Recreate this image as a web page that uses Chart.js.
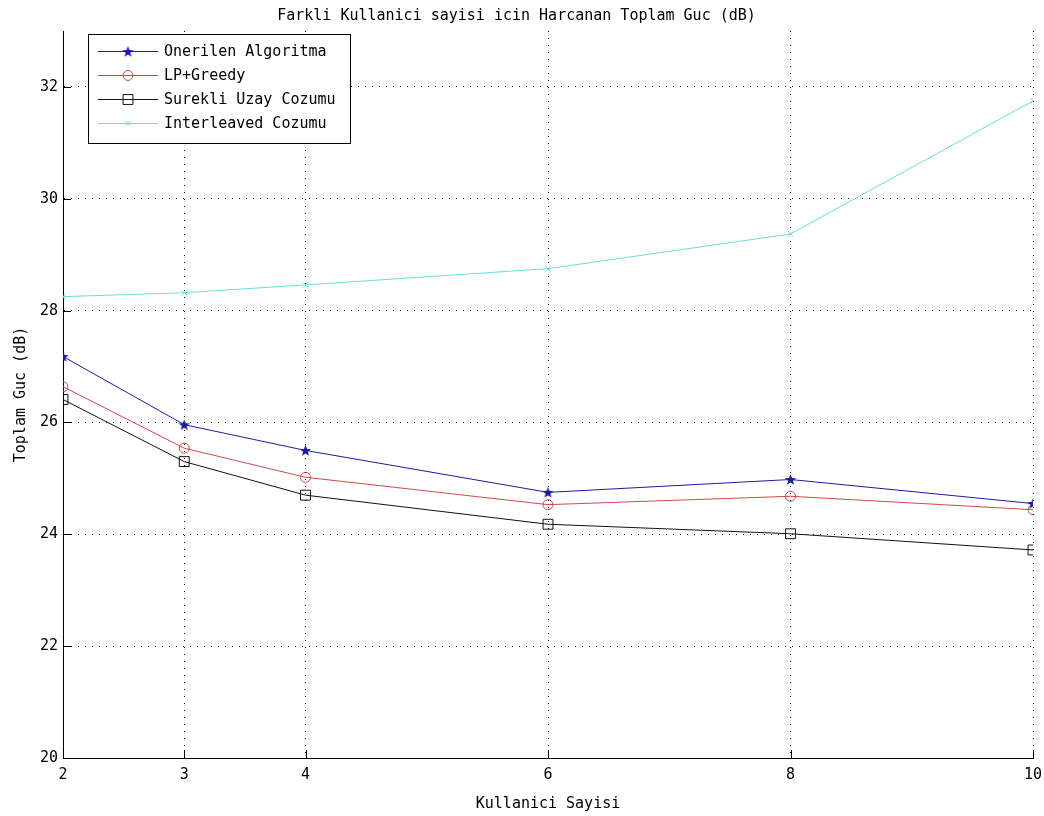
<!DOCTYPE html>
<html>
<head>
<meta charset="utf-8">
<script src="https://cdn.jsdelivr.net/npm/chart.js@4.4.1/dist/chart.umd.min.js"></script>
<style>
  html, body { margin: 0; padding: 0; background: #fff; }
</style>
</head>
<body>
<canvas id="powerChart" width="1044" height="816"></canvas>
<script>
// data
const users = [2, 3, 4, 6, 8, 10];
const onerilen = [27.18, 25.96, 25.50, 24.75, 24.98, 24.55];
const lpGreedy = [26.64, 25.54, 25.02, 24.53, 24.68, 24.44];
const surekli = [26.41, 25.30, 24.70, 24.18, 24.01, 23.72];
const interleaved = [28.25, 28.32, 28.46, 28.75, 29.37, 31.75];
const yTicks = [20, 22, 24, 26, 28, 30, 32];
const seriesNames = ['Onerilen Algoritma', 'LP+Greedy', 'Surekli Uzay Cozumu', 'Interleaved Cozumu'];

const FONT = '"DejaVu Sans Mono", monospace';

// filled pentagram marker, matlab style
function makeStar(color) {
    const c = document.createElement('canvas');
    c.width = 13; c.height = 13;
    const g = c.getContext('2d');
    g.fillStyle = color;
    g.beginPath();
    for (let i = 0; i < 10; i++) {
        const r = i % 2 === 0 ? 6 : 2.5;
        const a = -Math.PI / 2 + i * Math.PI / 5;
        const px = 6.5 + r * Math.cos(a), py = 7 + r * Math.sin(a);
        if (i === 0) g.moveTo(px, py); else g.lineTo(px, py);
    }
    g.closePath();
    g.fill();
    return c;
}

const blue = '#1c1c9c';
const red = '#d04848';
const black = '#111111';
const cyan = '#6adcdc';

const toPoints = arr => arr.map((v, i) => ({ x: users[i], y: v }));

// small inward tick marks on the axes
const innerTicks = {
    id: 'innerTicks',
    afterDatasetsDraw(chart) {
        const { ctx, chartArea, scales } = chart;
        ctx.save();
        ctx.strokeStyle = '#000';
        ctx.lineWidth = 1;
        ctx.beginPath();
        users.forEach(v => {
            const x = Math.round(scales.x.getPixelForValue(v)) + 0.5;
            ctx.moveTo(x, chartArea.bottom);
            ctx.lineTo(x, chartArea.bottom - 8);
        });
        yTicks.forEach(v => {
            const y = Math.round(scales.y.getPixelForValue(v)) + 0.5;
            ctx.moveTo(chartArea.left, y);
            ctx.lineTo(chartArea.left + 8, y);
        });
        ctx.stroke();
        ctx.restore();
    }
};

// legend box in the upper left corner
const boxLegend = {
    id: 'boxLegend',
    afterDraw(chart) {
        const ctx = chart.ctx;
        const bx = 88.5, by = 34.5, bw = 262, bh = 109;
        ctx.save();
        ctx.fillStyle = '#fff';
        ctx.fillRect(bx, by, bw, bh);
        ctx.strokeStyle = '#000';
        ctx.lineWidth = 1;
        ctx.strokeRect(bx, by, bw, bh);
        ctx.font = '15px ' + FONT;
        ctx.textBaseline = 'middle';
        chart.data.datasets.forEach((ds, i) => {
            const y = 51 + i * 24;
            ctx.strokeStyle = ds.borderColor;
            ctx.lineWidth = 1;
            ctx.beginPath();
            ctx.moveTo(98, y + 0.5);
            ctx.lineTo(158, y + 0.5);
            ctx.stroke();
            ctx.fillStyle = ds.backgroundColor;
            Chart.helpers.drawPoint(ctx, {
                pointStyle: ds.pointStyle,
                radius: ds.pointRadius,
                rotation: 0,
                borderWidth: 1
            }, 128, y + 0.5);
            ctx.fillStyle = '#000';
            ctx.fillText(ds.label, 164, y + 1);
        });
        ctx.restore();
    }
};

new Chart(document.getElementById('powerChart'), {
    type: 'line',
    data: {
        datasets: [
            {
                label: seriesNames[0], data: toPoints(onerilen),
                borderColor: blue, backgroundColor: blue,
                pointStyle: makeStar(blue), pointRadius: 6
            },
            {
                label: seriesNames[1], data: toPoints(lpGreedy),
                borderColor: red, backgroundColor: 'rgba(0,0,0,0)',
                pointStyle: 'circle', pointRadius: 5
            },
            {
                label: seriesNames[2], data: toPoints(surekli),
                borderColor: black, backgroundColor: 'rgba(0,0,0,0)',
                pointStyle: 'rect', pointRadius: 7
            },
            {
                label: seriesNames[3], data: toPoints(interleaved),
                borderColor: cyan, backgroundColor: cyan,
                pointStyle: 'crossRot', pointRadius: 4
            }
        ]
    },
    options: {
        responsive: false,
        animation: false,
        devicePixelRatio: 1,
        layout: { padding: { top: 0, right: 11, bottom: 0, left: 0 } },
        elements: {
            line: { borderWidth: 1, tension: 0, fill: false },
            point: { borderWidth: 1, hoverRadius: 6 }
        },
        plugins: {
            legend: { display: false },
            tooltip: { enabled: false },
            title: {
                display: true,
                text: 'Farkli Kullanici sayisi icin Harcanan Toplam Guc (dB)',
                color: '#000',
                font: { family: FONT, size: 15, weight: 'normal' },
                padding: { top: 7, bottom: 6 }
            }
        },
        scales: {
            x: {
                type: 'linear',
                min: 2, max: 10,
                afterBuildTicks: s => { s.ticks = users.map(v => ({ value: v })); },
                afterFit: s => { s.height = 58; s.paddingRight = 0; s.paddingLeft = 0; },
                ticks: { color: '#000', font: { family: FONT, size: 15 }, padding: 8, maxRotation: 0 },
                grid: { color: '#000', lineWidth: 1, drawTicks: false },
                border: { display: true, color: '#000', width: 1, dash: [1, 6] },
                title: {
                    display: true, text: 'Kullanici Sayisi', color: '#000',
                    font: { family: FONT, size: 15 }, padding: { top: 4, bottom: 3 }
                }
            },
            y: {
                min: 20, max: 33,
                afterBuildTicks: s => { s.ticks = yTicks.map(v => ({ value: v })); },
                afterFit: s => { s.width = 63; },
                ticks: { color: '#000', font: { family: FONT, size: 15 }, padding: 5 },
                grid: { color: '#000', lineWidth: 1, drawTicks: false },
                border: { display: true, color: '#000', width: 1, dash: [1, 6] },
                title: {
                    display: true, text: 'Toplam Guc (dB)', color: '#000',
                    font: { family: FONT, size: 15 }, padding: { top: 12, bottom: 4 }
                }
            }
        }
    },
    plugins: [innerTicks, boxLegend]
});
</script>
</body>
</html>
